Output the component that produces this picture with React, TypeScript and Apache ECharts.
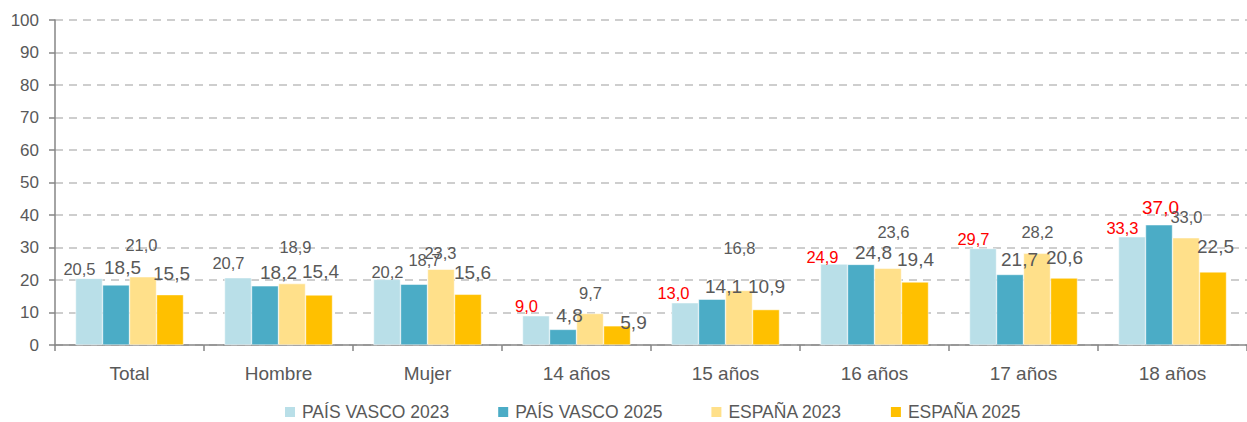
import React, { useEffect, useRef } from "react";
import * as echarts from "echarts";

const categories = ["Total", "Hombre", "Mujer", "14 años", "15 años", "16 años", "17 años", "18 años"];
const seriesNames = ["PAÍS VASCO 2023", "PAÍS VASCO 2025", "ESPAÑA 2023", "ESPAÑA 2025"];
const paisVasco2023 = [20.5, 20.7, 20.2, 9.0, 13.0, 24.9, 29.7, 33.3];
const paisVasco2025 = [18.5, 18.2, 18.7, 4.8, 14.1, 24.8, 21.7, 37.0];
const espana2023 = [21.0, 18.9, 23.3, 9.7, 16.8, 23.6, 28.2, 33.0];
const espana2025 = [15.5, 15.4, 15.6, 5.9, 10.9, 19.4, 20.6, 22.5];
const yTicks = [0, 10, 20, 30, 40, 50, 60, 70, 80, 90, 100];

const colors = ["#B9DFE8", "#4BACC6", "#FFE08A", "#FFC000"];

// label centre offsets [dx, dy] relative to the top-centre of each bar (labels were hand-placed in the source)
const offPV23 = [[-9.5, -9.4], [-9.5, -14.7], [0.5, -7.4], [-9.5, -9.75], [-11.5, -9.75], [-11.5, -7.1], [-9.5, -9.5], [-9.5, -8.8]];
const offPV25 = [[6.5, -16.9], [13.5, -13.85], [10.5, -24.2], [6.5, -14.4], [11.5, -12.2], [12.5, -12.4], [9.5, -14.5], [1.5, -17.75]];
const offES23 = [[-1.5, -31.75], [3.5, -36.6], [-0.5, -16.3], [0.5, -20.5], [0.5, -42.4], [5.5, -36.3], [0.5, -21.35], [0.5, -20.75]];
const offES25 = [[1.5, -21.6], [1.5, -23], [4.5, -22.3], [16.5, -3.8], [0.5, -22.6], [0.5, -22], [0.5, -21], [2.5, -24.9]];
// label font sizes / colours
const S = 16.5;
const L = 19;
const sizePV23 = [S, S, S, S, S, S, S, S];
const sizePV25 = [L, L, S, L, L, L, L, L];
const sizeES23 = [S, S, S, S, S, S, S, S];
const sizeES25 = [L, L, L, L, L, L, L, L];
const redPV23 = [false, false, false, true, true, true, true, true];
const redPV25 = [false, false, false, false, false, false, false, true];

const fmt = (v: number) => v.toFixed(1).replace(".", ",");

function buildData(values: number[], offs: number[][], sizes: number[], reds?: boolean[]) {
  return values.map((v, i) => ({
    value: v,
    label: {
      offset: [offs[i][0], offs[i][1] + sizes[i] / 2],
      fontSize: sizes[i],
      lineHeight: sizes[i],
      color: reds && reds[i] ? "#FF0000" : "#595959",
    },
  }));
}

export default function App() {
  const ref = useRef<HTMLDivElement>(null);
  useEffect(() => {
    if (!ref.current) return;
    const chart = echarts.init(ref.current, null, { renderer: "svg" });
    const allValues = [paisVasco2023, paisVasco2025, espana2023, espana2025];
    const allOffs = [offPV23, offPV25, offES23, offES25];
    const allSizes = [sizePV23, sizePV25, sizeES23, sizeES25];
    const allReds = [redPV23, redPV25, undefined, undefined];
    chart.setOption({
      animation: false,
      textStyle: { fontFamily: "Liberation Sans" },
      grid: { left: 55, top: 20, width: 1200, height: 325 },
      legend: {
        left: 283,
        top: 403,
        padding: 0,
        itemWidth: 12,
        itemHeight: 12,
        itemGap: 47,
        icon: "rect",
        textStyle: { color: "#595959", fontSize: 17.5, lineHeight: 18, fontFamily: "Liberation Sans", padding: [0, 0, 0, 1] },
        data: seriesNames,
      },
      xAxis: {
        type: "category",
        data: categories,
        axisLine: { lineStyle: { color: "#868686", width: 1.5 } },
        axisTick: { show: true, length: 6, lineStyle: { color: "#868686", width: 1.5 } },
        axisLabel: { color: "#595959", fontSize: 19, margin: 19 },
      },
      yAxis: {
        type: "value",
        min: yTicks[0],
        max: yTicks[yTicks.length - 1],
        interval: yTicks[1] - yTicks[0],
        axisLine: { show: true, lineStyle: { color: "#868686", width: 1.5 } },
        axisTick: { show: true, length: 6, lineStyle: { color: "#868686", width: 1.5 } },
        axisLabel: { color: "#595959", fontSize: 17, margin: 16 },
        splitLine: { lineStyle: { color: "#BFBFBF", width: 1.5, type: [8, 6] } },
      },
      series: allValues.map((vals, s) => ({
        name: seriesNames[s],
        type: "bar",
        barWidth: 27,
        barGap: "0%",
        itemStyle: { color: colors[s], borderColor: "#FFFFFF", borderWidth: 0.5 },
        label: {
          show: true,
          position: "top",
          distance: 0,
          formatter: (p: any) => fmt(p.value),
        },
        data: buildData(vals, allOffs[s], allSizes[s], allReds[s]),
      })),
    });
    return () => chart.dispose();
  }, []);
  return <div ref={ref} style={{ width: 1247, height: 422, position: "absolute", left: 0, top: 0 }} />;
}
